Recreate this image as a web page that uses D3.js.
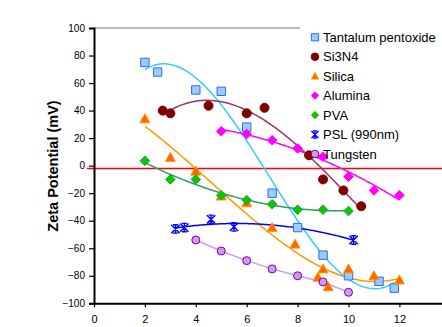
<!DOCTYPE html>
<html><head><meta charset="utf-8">
<script src="https://cdn.jsdelivr.net/npm/d3@7/dist/d3.min.js"></script>
<style>
body{margin:0;background:#fff;}
svg{display:block;font-family:Arial,"Liberation Sans",sans-serif;}
</style>
</head><body>
<svg id="chart" width="442" height="327"></svg>
<script>
// ---------- data ----------
const xTicks = [0, 2, 4, 6, 8, 10, 12];
const yTicks = [-100, -80, -60, -40, -20, 0, 20, 40, 60, 80, 100];
const seriesNames = ["Tantalum pentoxide", "Si3N4", "Silica", "Alumina", "PVA", "PSL (990nm)", "Tungsten"];

const tantalumX = [2, 2.5, 4, 5, 6, 7, 8, 9, 10, 11.2, 11.8];
const tantalumY = [75, 68, 55, 54, 28, -20, -45, -65, -80, -84, -89];

const si3n4X = [2.7, 3, 4.5, 6, 6.7, 8.45, 9, 9.8, 10.5];
const si3n4Y = [40, 38, 43.5, 38, 42, 7.5, -10, -18, -29.5];

const silicaX = [2, 3, 4, 5, 6, 7, 7.9, 8.8, 9, 9.2, 10, 11, 12];
const silicaY = [34, 6, -4, -22, -27, -45, -57, -81, -75, -88, -75, -80, -83];

const aluminaX = [5, 6, 7, 8, 9, 10, 11, 12];
const aluminaY = [25, 23, 18.5, 12.5, 6.5, -8, -18, -21.5];

const pvaX = [2, 3, 4, 5, 6, 7, 8, 9, 10];
const pvaY = [3.5, -10, -10, -21.5, -25, -28, -32, -32, -33];

const pslX = [3.2, 3.55, 4.6, 5.5, 10.2];
const pslY = [-46, -45, -39, -44.5, -54];

const tungstenX = [4, 5, 6, 7, 8, 9, 10];
const tungstenY = [-54, -62, -69, -75, -80, -84.5, -92];

const referenceLevel = [-2];
// trendline polynomial orders (0 = straight segments through points)
const fitOrders = [3, 3, 3, 2, 2, 2, 0];

// ---------- styles ----------
const styles = [
  {shape: "square",   fill: "#99CCFF", stroke: "#3366FF", line: "#33CCFF", size: 4.2},
  {shape: "circle",   fill: "#800000", stroke: "#800000", line: "#993366", size: 4.5},
  {shape: "triangle", fill: "#FF6600", stroke: "#FF9900", line: "#FF9900", size: 5},
  {shape: "diamond",  fill: "#FF00FF", stroke: "#FF00FF", line: "#FF00FF", size: 4.8},
  {shape: "diamond",  fill: "#00CC00", stroke: "#339933", line: "#339966", size: 4.8},
  {shape: "star",     fill: "none",    stroke: "#0000FF", line: "#0000FF", size: 4.2},
  {shape: "circle",   fill: "#CC99FF", stroke: "#800080", line: "#CC99FF", size: 4}
];

const xsList = [tantalumX, si3n4X, silicaX, aluminaX, pvaX, pslX, tungstenX];
const ysList = [tantalumY, si3n4Y, silicaY, aluminaY, pvaY, pslY, tungstenY];
const series = seriesNames.map((name, i) => ({
  name, style: styles[i], order: fitOrders[i],
  points: xsList[i].map((x, j) => ({x, y: ysList[i][j]}))
}));

// ---------- helpers ----------
function polyfit(xs, ys, order) {
  const n = order + 1;
  const A = Array.from({length: n}, () => new Array(n + 1).fill(0));
  for (let k = 0; k < xs.length; k++) {
    for (let r = 0; r < n; r++) {
      for (let c = 0; c < n; c++) A[r][c] += Math.pow(xs[k], r + c);
      A[r][n] += ys[k] * Math.pow(xs[k], r);
    }
  }
  for (let i = 0; i < n; i++) {
    let p = i;
    for (let r = i + 1; r < n; r++) if (Math.abs(A[r][i]) > Math.abs(A[p][i])) p = r;
    [A[i], A[p]] = [A[p], A[i]];
    for (let r = 0; r < n; r++) {
      if (r === i) continue;
      const f = A[r][i] / A[i][i];
      for (let c = i; c <= n; c++) A[r][c] -= f * A[i][c];
    }
  }
  const coef = A.map((row, i) => row[n] / row[i]);
  return x => coef.reduce((s, c, i) => s + c * Math.pow(x, i), 0);
}

function markerPath(shape, r) {
  switch (shape) {
    case "square":   return `M${-r},${-r}H${r}V${r}H${-r}Z`;
    case "circle":   return d3.symbol(d3.symbolCircle, Math.PI * r * r)();
    case "triangle": return `M0,${-r}L${r},${r * 0.8}L${-r},${r * 0.8}Z`;
    case "diamond":  return `M0,${-r}L${r},0L0,${r}L${-r},0Z`;
    case "star":     return `M${-r},${-r}L${r},${r}M${-r},${r}L${r},${-r}M0,${-r}V${r}M${-r * 0.6},${-r}H${r * 0.6}M${-r * 0.6},${r}H${r * 0.6}`;
  }
}

// ---------- chart ----------
const svg = d3.select("#chart");
const x = d3.scaleLinear().domain([0, 14]).range([94, 450.3]);
const y = d3.scaleLinear().domain([-100, 100]).range([303.3, 28]);

// plot frame top line
svg.append("line").attr("x1", x(0)).attr("x2", 300).attr("y1", y(100)).attr("y2", y(100))
  .attr("stroke", "#777").attr("stroke-width", 1.2);

// reference line
svg.selectAll(".ref").data(referenceLevel).enter().append("line")
  .attr("x1", 87).attr("x2", 442).attr("y1", d => y(d)).attr("y2", d => y(d))
  .attr("stroke", "#FF0000").attr("stroke-width", 1.5);

// series lines
const lineGen = d3.line().x(d => x(d.x)).y(d => y(d.y));
series.forEach(s => {
  let pts;
  if (s.order > 0) {
    const f = polyfit(s.points.map(p => p.x), s.points.map(p => p.y), s.order);
    const [lo, hi] = d3.extent(s.points, p => p.x);
    pts = d3.range(0, 101).map(i => { const xv = lo + (hi - lo) * i / 100; return {x: xv, y: f(xv)}; });
  } else {
    pts = s.points;
  }
  svg.append("path").attr("d", lineGen(pts)).attr("fill", "none")
    .attr("stroke", s.style.line).attr("stroke-width", 1.5);
});

// markers
series.forEach(s => {
  svg.append("g").selectAll("path").data(s.points).enter().append("path")
    .attr("transform", d => `translate(${x(d.x)},${y(d.y)})`)
    .attr("d", markerPath(s.style.shape, s.style.size))
    .attr("fill", s.style.fill).attr("stroke", s.style.stroke)
    .attr("stroke-width", s.style.shape === "star" ? 1.4 : 1);
});

// axes
const yAxis = d3.axisLeft(y).tickValues(yTicks).tickSize(5).tickPadding(4);
const gy = svg.append("g").attr("transform", `translate(${x(0)},0)`).call(yAxis);
gy.select(".domain").attr("stroke", "#000").attr("stroke-width", 2);
gy.selectAll(".tick line").attr("stroke", "#000").attr("stroke-width", 1.2);
gy.selectAll("text").attr("font-size", 10).attr("fill", "#000").attr("font-family", "Arial, 'Liberation Sans', sans-serif");

const xAxis = d3.axisBottom(x).tickValues(xTicks).tickSize(4).tickPadding(8).tickSizeOuter(0);
const gx = svg.append("g").attr("transform", `translate(0,${y(-100)})`).call(xAxis);
gx.select(".domain").attr("stroke", "#000").attr("stroke-width", 2);
gx.selectAll(".tick line").attr("stroke", "#000").attr("stroke-width", 1.2);
gx.selectAll("text").attr("font-size", 11).attr("fill", "#000").attr("font-family", "Arial, 'Liberation Sans', sans-serif");

// y title
svg.append("text").attr("transform", "translate(58,166) rotate(-90)")
  .attr("text-anchor", "middle").attr("font-size", 14.5).attr("font-weight", "bold")
  .text("Zeta Potential (mV)");

// legend
const lg = svg.append("g").attr("transform", "translate(315,37.3)");
series.forEach((s, i) => {
  const row = lg.append("g").attr("transform", `translate(0,${i * 19.45})`);
  row.append("path").attr("d", markerPath(s.style.shape, s.style.shape === "circle" ? 3.8 : 3.6))
    .attr("fill", s.style.fill).attr("stroke", s.style.stroke)
    .attr("stroke-width", s.style.shape === "star" ? 1.3 : 1);
  row.append("text").attr("x", 8).attr("y", 0).attr("dy", "0.36em")
    .attr("font-size", 13).attr("fill", "#000").text(s.name);
});
</script>
</body></html>
